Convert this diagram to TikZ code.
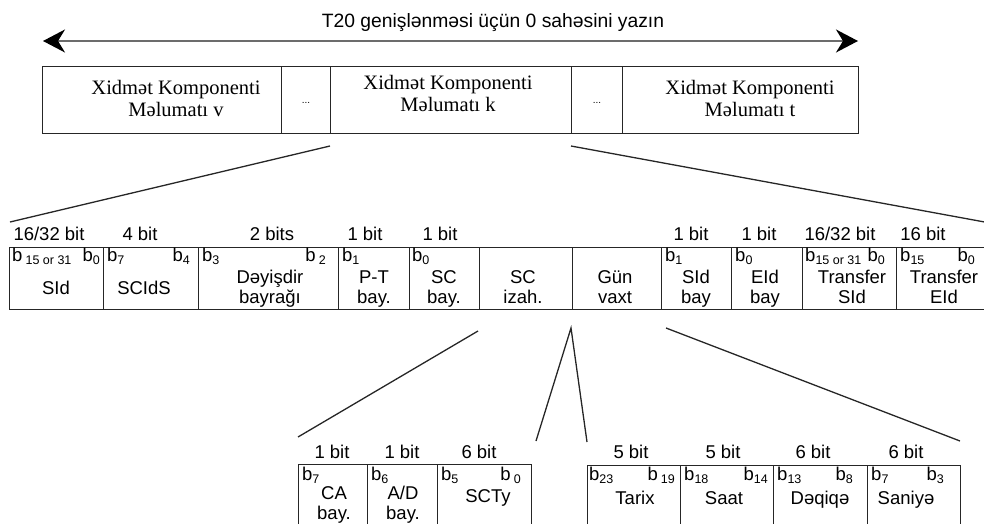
\documentclass[tikz,border=0pt]{standalone}
\usepackage{fontspec}
\setmainfont{Liberation Sans}
\newfontfamily\boxserif{Liberation Serif}
\usetikzlibrary{arrows.meta, positioning, calc}

\newcommand{\bitsub}[1]{\raisebox{-3.5pt}{\fontsize{12.5}{13}\selectfont #1}}

\begin{document}
\begin{tikzpicture}[x=1pt, y=-1pt,
  cell/.style={draw=black!85, line width=1.4pt, anchor=north west,
    inner sep=0pt, fill=white},
  topbox/.style={font=\boxserif\fontsize{20.5}{22}\selectfont,
    align=center, inner sep=0pt, anchor=base},
  lbl/.style={font=\fontsize{18.5}{20}\selectfont, align=center,
    inner sep=0pt, anchor=base},
  bitl/.style={lbl, anchor=base west},
  bitr/.style={lbl, anchor=base east},
  dots/.style={font=\fontsize{10}{10}\selectfont, inner sep=0pt, anchor=base},
  span/.style={{Stealth[length=22pt, width=23pt, inset=7pt, color=black]}-{Stealth[length=22pt, width=23pt, inset=7pt, color=black]},
    draw=gray!85!black, line width=1.8pt},
  fan/.style={draw=black!85, line width=1.3pt}
]
\useasboundingbox (0,0) rectangle (984,524);
\clip (0,0) rectangle (984,524);

%% ==== Top arrow ====
\coordinate (la) at (43,41);
\coordinate (ra) at (858,41);
\draw[span] (la) -- (ra);
\node[lbl, font=\fontsize{19.3}{20}\selectfont] (title) at (493,28) {T20 genişlənməsi üçün 0 sahəsini yazın};

%% ==== Service components ====
\foreach \n/\a/\b in {cv/42/281, d1/281/330, ck/330/571, d2/571/622, ct/622/858}
  \node[cell, minimum width=\b-\a, minimum height=67] (\n) at (\a,66) {};
% base anchor sits on the last line
\node[topbox] (tv) at (176,117) {Xidmət Komponenti\\Məlumatı v};
\node[topbox] (tk) at (448,112) {Xidmət Komponenti\\Məlumatı k};
\node[topbox] (tt) at (750,117) {Xidmət Komponenti\\Məlumatı t};
\node[dots] (dd1) at (306,104) {...};
\node[dots] (dd2) at (597,104) {...};

%% ==== Fields of component k ====
\foreach \n/\a/\b in {m1/9/103, m2/103/198, m3/198/338, m4/338/409, m5/409/479,
  m6/479/572, m7/572/661, m8/661/731, m9/731/802, m10/802/896, m11/896/992}
  \node[cell, minimum width=\b-\a, minimum height=62] (\n) at (\a,247) {};

\foreach \x/\t [count=\i] in {49/{16/32 bit}, 140/4 bit, 272/2 bits, 365/1 bit, 440/1 bit,
  691/1 bit, 759/1 bit, 840/{16/32 bit}, 923/16 bit}
  \node[lbl] (w\i) at (\x,240) {\t};

\foreach \x/\t [count=\i] in {12/b\,\bitsub{15 or 31}, 107/b\bitsub{7}, 202/b\bitsub{3},
  342/b\bitsub{1}, 412/b\bitsub{0}, 665/b\bitsub{1}, 735/b\bitsub{0},
  805/b\bitsub{15 or 31}, 900/b\bitsub{15}}
  \node[bitl] (bl\i) at (\x,261) {\t};
\foreach \x/\t [count=\i] in {100/b\bitsub{0}, 190/b\bitsub{4}, 326/b\,\bitsub{2},
  885/b\bitsub{0}, 975/b\bitsub{0}}
  \node[bitr] (br\i) at (\x,261) {\t};

\node[lbl] (sid) at (56,294) {SId};
\node[lbl] (scids) at (144,294) {SCIdS};
\foreach \x/\t [count=\i] in {270/Dəyişdir\\bayrağı, 374/P-T\\bay., 444/SC\\bay.,
  523/SC\\izah., 615/Gün\\vaxt, 696/SId\\bay, 765/EId\\bay,
  852/Transfer\\SId, 944/Transfer\\EId}
  \node[lbl] (f\i) at (\x,303) {\t};

%% ==== Fan lines ====
\coordinate (k1) at (330,146);
\coordinate (k2) at (571,146);
\coordinate (r1) at (10,222);
\coordinate (r2) at (990,223);
\draw[fan] (k1) -- (r1);
\draw[fan] (k2) -- (r2);

\coordinate (s1) at (478,331);
\coordinate (s2) at (298,437);
\coordinate (g0) at (571,328);
\coordinate (g1) at (536,441);
\coordinate (g2) at (587,442);
\coordinate (t1) at (666,328);
\coordinate (t2) at (960,441);
\draw[fan] (s1) -- (s2);
\draw[fan] (g1) -- (g0) -- (g2);
\draw[fan] (t1) -- (t2);

%% ==== SC type bits ====
\foreach \n/\a/\b in {q1/298/367, q2/367/437, q3/437/531}
  \node[cell, minimum width=\b-\a, minimum height=80] (\n) at (\a,464) {};
\foreach \x/\t [count=\i] in {332/1 bit, 402/1 bit, 479/6 bit}
  \node[lbl] (qw\i) at (\x,458) {\t};
\node[bitl] (qb1) at (302,480) {b\bitsub{7}};
\node[bitl] (qb2) at (371,480) {b\bitsub{6}};
\node[bitl] (qb3) at (441,480) {b\bitsub{5}};
\node[bitr] (qb4) at (521,480) {b\,\bitsub{0}};
\node[lbl] (ca) at (334,519) {CA\\bay.};
\node[lbl] (ad) at (403,519) {A/D\\bay.};
\node[lbl] (scty) at (488,502) {SCTy};

%% ==== Time bits ====
\foreach \n/\a/\b in {z1/587/680, z2/680/773, z3/773/867, z4/867/960}
  \node[cell, minimum width=\b-\a, minimum height=80] (\n) at (\a,465) {};
\foreach \x/\t [count=\i] in {631/5 bit, 723/5 bit, 813/6 bit, 906/6 bit}
  \node[lbl] (zw\i) at (\x,458) {\t};
\foreach \x/\t [count=\i] in {589/b\bitsub{23}, 684/b\bitsub{18}, 777/b\bitsub{13}, 871/b\bitsub{7}}
  \node[bitl] (zl\i) at (\x,480) {\t};
\foreach \x/\t [count=\i] in {675/b\,\bitsub{19}, 768/b\bitsub{14}, 853/b\bitsub{8}, 944/b\bitsub{3}}
  \node[bitr] (zr\i) at (\x,480) {\t};
\foreach \x/\t [count=\i] in {635/Tarix, 724/Saat, 820/Dəqiqə, 906/Saniyə}
  \node[lbl] (zt\i) at (\x,504) {\t};

\end{tikzpicture}
\end{document}
